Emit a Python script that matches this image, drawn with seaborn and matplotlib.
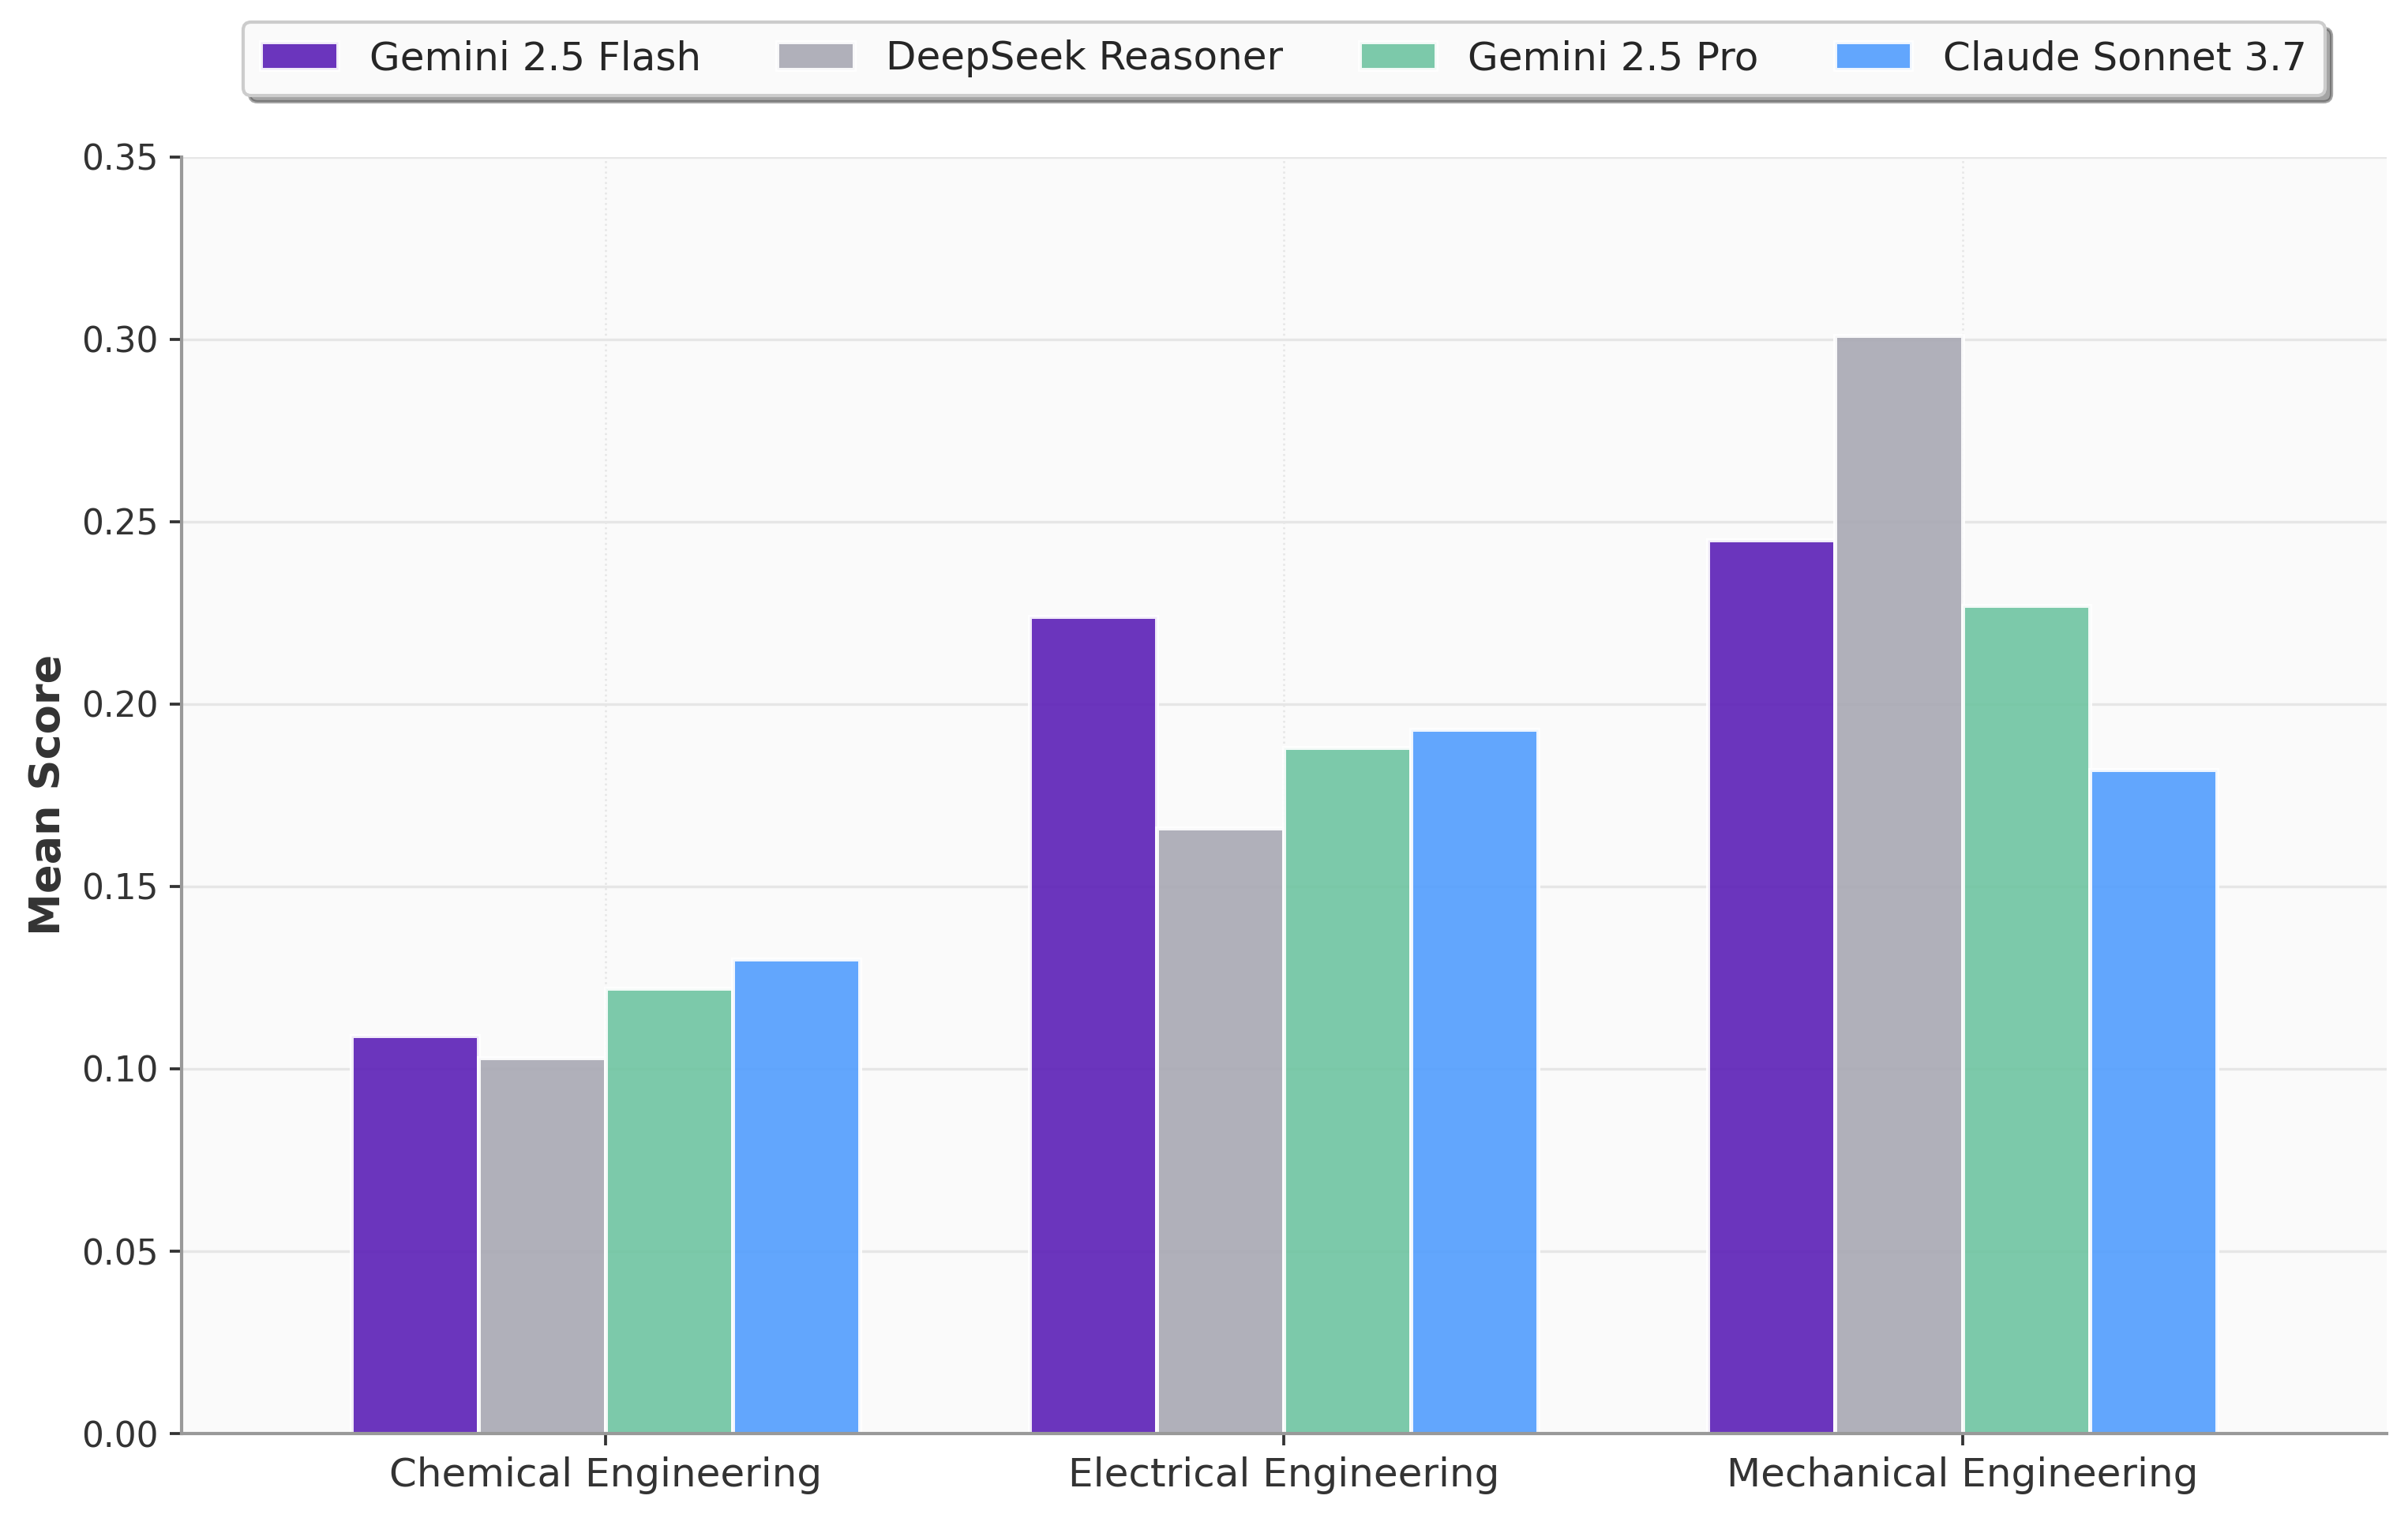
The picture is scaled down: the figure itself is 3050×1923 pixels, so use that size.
import pandas as pd
import matplotlib
matplotlib.use("Agg")
import matplotlib.pyplot as plt
import seaborn as sns

OUT_FILE = 'out.png'

disciplines = ['Chemical Engineering', 'Electrical Engineering', 'Mechanical Engineering']
models = ['Gemini 2.5 Flash', 'DeepSeek Reasoner', 'Gemini 2.5 Pro', 'Claude Sonnet 3.7']

gemini_flash = [0.109, 0.224, 0.245]
deepseek_reasoner = [0.103, 0.166, 0.301]
gemini_pro = [0.122, 0.188, 0.227]
claude_sonnet = [0.130, 0.193, 0.182]

model_colors = ['#5c1fb7', '#a8a8b3', '#6ec4a1', '#519dfe']


def main():
    scores = [gemini_flash, deepseek_reasoner, gemini_pro, claude_sonnet]
    records = []
    for model, vals in zip(models, scores):
        for disc, v in zip(disciplines, vals):
            records.append({'discipline': disc, 'model': model, 'score': v})
    df = pd.DataFrame(records)

    sns.set_theme(style="white")
    plt.rcParams['font.family'] = ['DejaVu Sans']

    fig = plt.figure(figsize=(3050 / 300, 1923 / 300), dpi=300)
    ax = fig.add_axes([0.0754, 0.0556, 0.9156, 0.8411])
    ax.set_facecolor('#fafafa')

    sns.barplot(data=df, x='discipline', y='score', hue='model',
                order=disciplines, hue_order=models, palette=model_colors,
                saturation=1, width=0.75, alpha=0.9, edgecolor='white',
                linewidth=1.2, ax=ax, zorder=2)

    ax.set_ylim(0, 0.35)
    ax.set_xlim(-0.625, 2.625)
    ax.set_yticks([0, 0.05, 0.10, 0.15, 0.20, 0.25, 0.30, 0.35])
    ax.set_yticklabels([f'{t:.2f}' for t in ax.get_yticks()])

    ax.grid(axis='y', color='#e6e6e6', linewidth=0.8, zorder=0)
    ax.grid(axis='x', color='#e6e6e6', linewidth=0.6, linestyle=':', zorder=0)
    ax.set_axisbelow(True)

    for side in ['top', 'right']:
        ax.spines[side].set_visible(False)
    for side in ['left', 'bottom']:
        ax.spines[side].set_color('#999999')
        ax.spines[side].set_linewidth(1.0)

    ax.tick_params(axis='both', which='major', length=3.5, width=0.9,
                   color='#333333', labelcolor='#333333', left=True, bottom=True)
    ax.tick_params(axis='x', labelsize=12)
    ax.tick_params(axis='y', labelsize=10.5)

    ax.set_xlabel('')
    ax.set_ylabel('Mean Score', fontsize=13, fontweight='bold', color='#333333')

    ax.legend(loc='center', bbox_to_anchor=(0.5, 1.077), ncol=4, fontsize=12,
              frameon=True, fancybox=True, shadow=True, columnspacing=1.93,
              handlelength=1.95, borderpad=0.45, framealpha=1.0,
              edgecolor='#cccccc', facecolor='#fafafa')

    fig.savefig(OUT_FILE, dpi=300)
    plt.close(fig)


if __name__ == "__main__":
    main()
